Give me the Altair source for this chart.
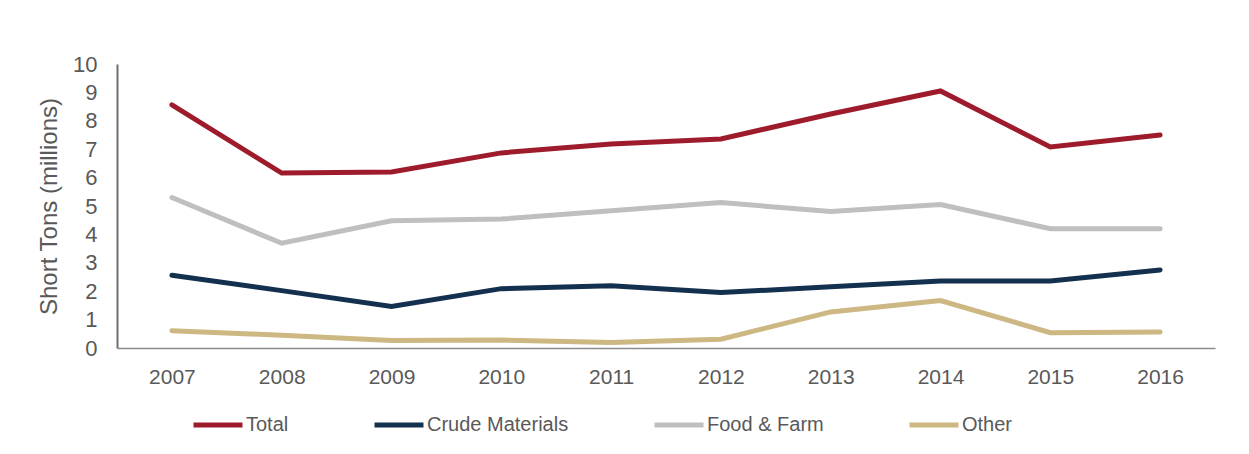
import altair as alt
import pandas as pd

years = ["2007", "2008", "2009", "2010", "2011", "2012", "2013", "2014", "2015", "2016"]
total = [8.56, 6.16, 6.2, 6.87, 7.18, 7.36, 8.24, 9.05, 7.08, 7.5]
crude = [2.56, 2.02, 1.46, 2.09, 2.19, 1.95, 2.16, 2.36, 2.36, 2.75]
food = [5.3, 3.69, 4.48, 4.54, 4.83, 5.12, 4.81, 5.05, 4.2, 4.2]
other = [0.61, 0.45, 0.26, 0.28, 0.19, 0.31, 1.27, 1.67, 0.54, 0.56]

series_names = ["Total", "Crude Materials", "Food & Farm", "Other"]
series_colors = ["#9E1B2C", "#14304F", "#BFBFBF", "#CDB783"]

rows = []
for name, vals in zip(series_names, [total, crude, food, other]):
    for y, v in zip(years, vals):
        rows.append({"Year": y, "Series": name, "Value": v})
df = pd.DataFrame(rows)

FONT = "Liberation Sans"

chart = alt.Chart(df).mark_line(strokeWidth=5, strokeCap="round").encode(
    x=alt.X("Year:N", sort=years, scale=alt.Scale(type="point", padding=0.5),
            axis=alt.Axis(title=None, labelAngle=0, ticks=False, labelPadding=18, labelFontSize=21,
                          labelColor="#595959", labelFont=FONT, domainColor="#8C8C8C", domainWidth=1.5)),
    y=alt.Y("Value:Q", scale=alt.Scale(domain=[0, 10], nice=False),
            axis=alt.Axis(title="Short Tons (millions)", values=list(range(0, 11)), grid=False, ticks=False,
                          labelPadding=20, labelFontSize=22, labelColor="#595959", labelFont=FONT,
                          titleFont=FONT, titleFontSize=24, titleFontWeight="normal", titleColor="#595959",
                          titlePadding=11, domainColor="#6E6E6E", domainWidth=2)),
    color=alt.Color("Series:N", sort=series_names,
                    scale=alt.Scale(domain=series_names, range=series_colors),
                    legend=alt.Legend(title=None, orient="none", legendX=74, legendY=334, direction="horizontal",
                                      columns=4, columnPadding=75, symbolType="stroke", symbolSize=2401,
                                      symbolStrokeWidth=5, labelFontSize=20, labelFont=FONT, labelLimit=400,
                                      labelColor="#595959", labelOffset=1, symbolOffset=0)),
    order=alt.Order("Series:N"),
).properties(
    width=1098, height=284,
    autosize=alt.AutoSizeParams(type="none"),
    padding={"left": 109, "top": 56, "right": 26, "bottom": 98},
).configure(background="white").configure_view(strokeOpacity=0, strokeWidth=0)

chart.save("out.html", embed_options={"renderer": "svg", "actions": False})
